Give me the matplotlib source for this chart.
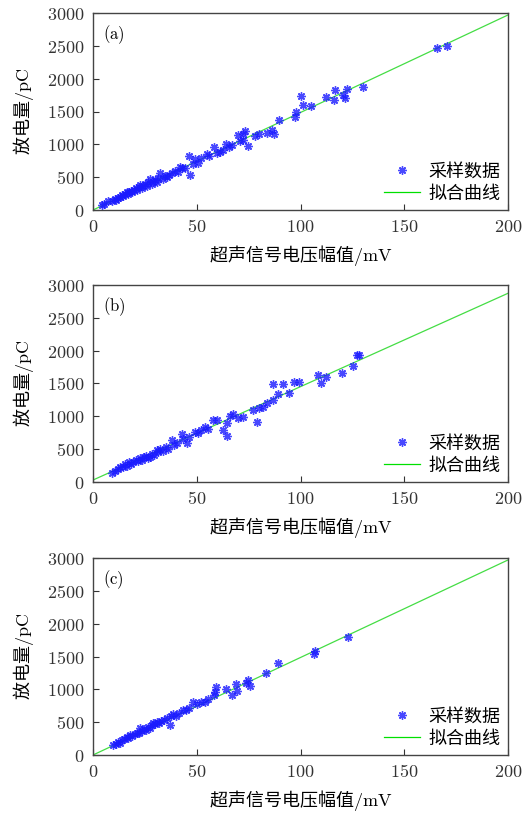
import matplotlib.pyplot as plt
import numpy as np

plt.rcParams['mathtext.fontset'] = 'cm'
plt.rcParams['font.family'] = ['Noto Sans CJK SC', 'DejaVu Sans']

# panel (a)
a_x = [4.2, 5.5, 7.4, 9.0, 10.5, 11.2, 12.0, 13.0, 13.8, 14.5, 15.3, 16.2, 16.8, 17.5,
       18.2, 19.0, 19.8, 20.5, 21.3, 22.0, 22.7, 23.5, 24.2, 25.0, 25.8, 26.5, 27.5, 28.3,
       29.0, 30.0, 30.8, 31.5, 32.3, 33.5, 34.5, 35.5, 36.5, 38.0, 39.5, 41.0, 41.9, 43.0,
       44.5, 46.4, 46.7, 48.0, 49.2, 50.5, 52.0, 54.8, 56.0, 58.3, 59.6, 61.0, 62.5, 64.1,
       65.7, 67.0, 70.0, 71.0, 72.1, 72.5, 73.3, 74.8, 78.0, 80.1, 83.9, 86.1, 87.4, 89.8,
       97.3, 97.8, 100.1, 101.4, 104.9, 112.3, 116.1, 116.6, 120.5, 121.6, 122.3, 130.3,
       165.6, 170.8]
a_y = [76, 95, 132, 140, 170, 150, 190, 203, 230, 215, 250, 279, 240, 275,
       290, 270, 300, 330, 310, 350, 381, 340, 370, 395, 360, 420, 467, 400,
       430, 460, 420, 480, 558, 470, 520, 500, 540, 560, 600, 580, 660, 640,
       640, 822, 533, 700, 772, 720, 790, 853, 820, 954, 863, 880, 920, 1000,
       964, 990, 1142, 1050, 1066, 1150, 1203, 979, 1120, 1157, 1180, 1218, 1157, 1371,
       1412, 1497, 1741, 1594, 1584, 1726, 1675, 1827, 1751, 1700, 1838, 1878,
       2472, 2497]

# panel (b)
b_x = [9.0, 10.5, 12.0, 13.0, 14.6, 15.5, 16.5, 17.5, 18.5, 19.4, 20.5, 21.5, 22.5, 23.5,
       24.5, 25.5, 26.5, 27.5, 28.5, 29.5, 30.7, 31.5, 32.5, 33.5, 35.0, 36.0, 37.9, 39.0,
       40.5, 42.7, 43.5, 45.1, 46.5, 49.2, 50.5, 52.0, 54.0, 55.5, 58.0, 59.6, 62.8, 64.4,
       64.4, 66.0, 67.6, 69.8, 72.4, 77.3, 78.9, 80.0, 82.1, 84.0, 86.9, 89.1, 91.4, 86.9,
       94.6, 96.8, 99.4, 108.3, 109.7, 112.3, 119.9, 125.4, 127.1, 128.0]
b_y = [142, 170, 200, 230, 234, 270, 250, 300, 280, 310, 340, 320, 360, 330,
       380, 400, 360, 386, 430, 410, 487, 450, 500, 470, 530, 510, 640, 570,
       600, 731, 650, 589, 680, 766, 740, 790, 843, 810, 944, 944, 792, 903,
       700, 1000, 1036, 970, 995, 1096, 918, 1130, 1147, 1200, 1249, 1340, 1492, 1492,
       1351, 1528, 1528, 1634, 1503, 1594, 1655, 1767, 1934, 1940]

# panel (c)
c_x = [9.8, 11.0, 12.0, 13.0, 14.0, 15.0, 16.2, 17.0, 18.0, 19.0, 20.0, 21.0, 22.0, 22.7,
       23.5, 24.5, 25.5, 26.5, 27.5, 28.5, 29.1, 30.0, 31.0, 32.0, 33.0, 34.0, 35.5, 36.9,
       37.5, 38.7, 40.0, 41.5, 43.5, 45.0, 46.5, 48.3, 50.0, 52.0, 54.0, 55.5, 58.3, 59.3,
       59.0, 64.1, 66.8, 68.8, 69.6, 74.8, 75.7, 73.5, 83.2, 89.3, 106.5, 107.0, 123.0]
c_y = [152, 170, 200, 190, 230, 250, 279, 260, 300, 290, 320, 340, 330, 406,
       360, 390, 380, 420, 410, 450, 482, 470, 500, 480, 520, 530, 558, 460,
       600, 620, 600, 640, 685, 690, 720, 812, 780, 800, 812, 860, 914, 1040,
       960, 1005, 914, 1076, 975, 1142, 1056, 1100, 1244, 1396, 1533, 1584, 1802]

# fitted lines (slope, intercept)
fits = [(14.85, 0.0), (14.22, 30.0), (14.85, 0.0)]
tags = ['(a)', '(b)', '(c)']
xticks = [0, 50, 100, 150, 200]
yticks = [0, 500, 1000, 1500, 2000, 2500, 3000]

fig = plt.figure(figsize=(5.25, 8.14), dpi=100)
W, H = 525, 814
tops = [13, 285, 558]
data = [(a_x, a_y), (b_x, b_y), (c_x, c_y)]
star = (8, 2, 0)

for i in range(3):
    top = tops[i]
    ax = fig.add_axes([93 / W, 1 - (top + 197) / H, 415 / W, 197 / H])
    xs, ys = data[i]
    k, b0 = fits[i]
    xl = np.array([0, 200])
    ax.plot(xl, k * xl + b0, color='#44dd44', lw=0.9, zorder=2, label='拟合曲线')
    ax.plot(xs, ys, linestyle='none', marker=star, ms=6, mew=1.0,
            color='#1a1aff', alpha=0.8, zorder=3, label='采样数据')
    ax.set_xlim(0, 200)
    ax.set_ylim(0, 3000)
    ax.set_xticks(xticks)
    ax.set_yticks(yticks)
    ax.set_xticklabels([f'${t}$' for t in xticks], fontsize=13)
    ax.set_yticklabels([f'${t}$' for t in yticks], fontsize=13)
    ax.tick_params(direction='in', length=4, width=0.8, colors='#333333', pad=6)
    for s in ax.spines.values():
        s.set_color('#444444')
        s.set_linewidth(1.0)
    ax.text(0.025, 0.95, '$\\mathrm{' + tags[i] + '}$', transform=ax.transAxes,
            fontsize=12, va='top', ha='left')
    ax.set_ylabel('放电量$/\\mathrm{pC}$', fontsize=13, labelpad=8)
    ax.set_xlabel('超声信号电压幅值$/\\mathrm{mV}$', fontsize=13, labelpad=5)
    h, l = ax.get_legend_handles_labels()
    leg = ax.legend([h[1], h[0]], [l[1], l[0]], loc='lower right', frameon=False,
                    fontsize=13, handlelength=2.0, handletextpad=0.5,
                    borderaxespad=0.0, labelspacing=0.25)
    leg.get_lines()[1].set_color('#00e000')

fig.savefig('out.png', dpi=100)
